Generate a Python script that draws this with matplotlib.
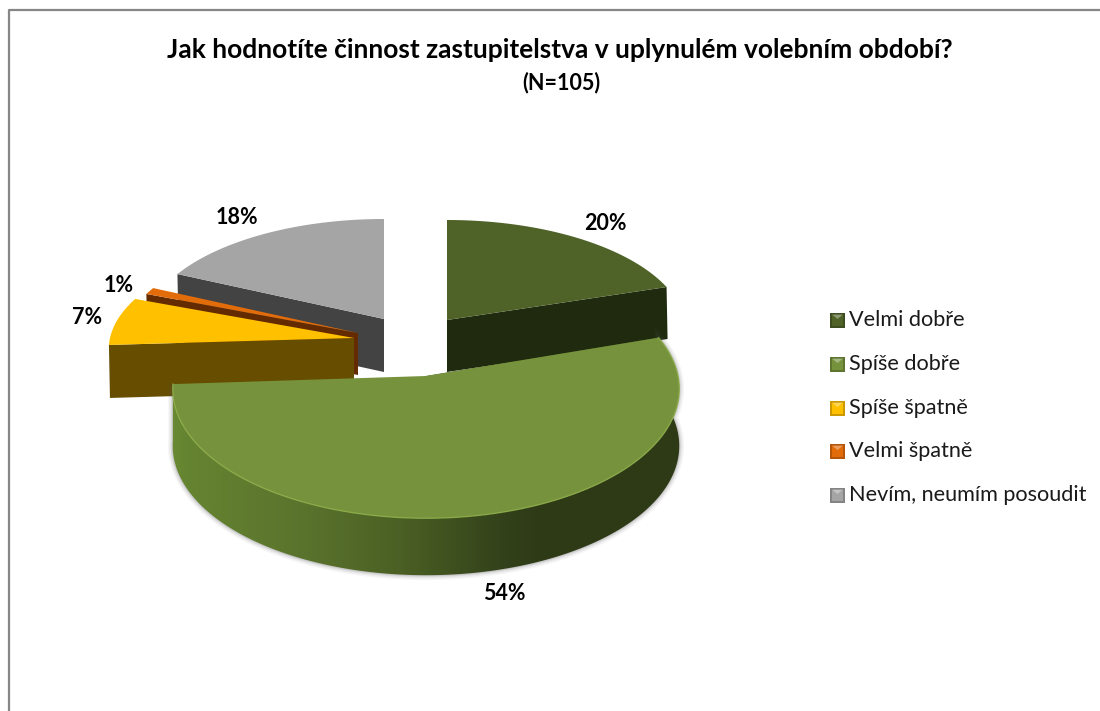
import numpy as np
import matplotlib
matplotlib.use('Agg')
import matplotlib.pyplot as plt
from matplotlib.patches import Polygon
from matplotlib.colors import to_rgb

plt.rcParams['font.family'] = ['Lato', 'DejaVu Sans']

categories = ['Velmi dobře', 'Spíše dobře', 'Spíše špatně', 'Velmi špatně', 'Nevím, neumím posoudit']
values = [20, 54, 7, 1, 18]
labels = ['20%', '54%', '7%', '1%', '18%']

top_colors = ['#4f6228', '#76923c', '#ffc000', '#e36c0a', '#a5a5a5']
side_colors = ['#1f2a0e', '#3a4d1c', '#664d00', '#652b00', '#434343']

# cx, cy, rx, ry, depth of each slice in pixels
geometry = [(447, 320, 238, 110, 52),
            (426, 376, 252, 128, 57),
            (354, 338, 244, 110, 53),
            (358, 333, 236, 110, 42),
            (384, 319, 238, 110, 53)]
label_pos = [(605, 224), (504, 593), (87, 318), (119, 285), (237, 217)]
draw_order = [4, 0, 3, 2, 1]

# shading along the green rim: x pixel -> colour
rim_x = [172, 190, 300, 400, 500, 540, 680]
rim_colors = ['#6a8a33', '#658431', '#5b742d', '#4b6024', '#33421a', '#2e3a16', '#2e3a16']

persp = 0.1


def rim_point(g, theta):
    cx, cy, rx, ry, d = g
    s = 1 / (1 + persp * np.cos(theta))
    return cx + rx * np.sin(theta) * s, cy - ry * np.cos(theta) * s


fig = plt.figure(figsize=(11, 7.11), dpi=100)
ax = fig.add_axes([0, 0, 1, 1])
ax.set_xlim(0, 1100)
ax.set_ylim(711, 0)
ax.axis('off')

# frame of the chart area, only top and left are in the crop
ax.plot([1100, 9, 9], [10, 10, 711], color='#868686', lw=1.6, zorder=1)

edges = np.cumsum([0] + values) / sum(values) * 2 * np.pi

for z, i in enumerate(draw_order):
    g = geometry[i]
    cx, cy, rx, ry, d = g
    t = np.linspace(edges[i], edges[i + 1], 200)
    xs, ys = rim_point(g, t)
    base = 10 + z * 3

    # radial face, the one turned to the viewer (first slice shows its end edge)
    k = -1 if i == 0 else 0
    x0, y0 = xs[k], ys[k]
    ax.add_patch(Polygon([(cx, cy), (x0, y0), (x0 + 1, y0 + d), (cx, cy + d)],
                         color=side_colors[i], lw=0, zorder=base))

    # outer rim only shows on the big front slice
    if i == 1:
        band = np.vstack([np.column_stack([xs, ys]), np.column_stack([xs, ys + d])[::-1]])
        # soft shadow round the bottom edge
        for w, a in [(7, 0.05), (5, 0.07), (3, 0.10), (1.5, 0.14)]:
            ax.add_patch(Polygon(band, closed=True, fc='none', ec='#555555', lw=w, alpha=a,
                                 zorder=base - 1))
        clip = Polygon(band, closed=True, transform=ax.transData, fc='none', ec='none')
        ax.add_patch(clip)
        grad_x = np.linspace(rim_x[0], rim_x[-1], 512)
        rgb = np.array([to_rgb(c) for c in rim_colors])
        grad = np.stack([np.interp(grad_x, rim_x, rgb[:, n]) for n in range(3)], axis=-1)[None, :, :]
        im = ax.imshow(grad, extent=(rim_x[0] - 4, rim_x[-1] + 4, ys.max() + d + 5, ys.min() - 5),
                       aspect='auto', zorder=base, interpolation='bilinear')
        im.set_clip_path(clip)
        ax.set_xlim(0, 1100)
        ax.set_ylim(711, 0)

    ax.add_patch(Polygon(np.column_stack([np.r_[cx, xs], np.r_[cy, ys]]),
                         color=top_colors[i], lw=0, zorder=base + 1))
    if i == 1:
        # lighter bevel on the lower edge of the top face
        ax.plot(xs, ys, color='#8fb04a', lw=1, alpha=0.8, zorder=base + 2)

for i in range(len(labels)):
    ax.text(label_pos[i][0], label_pos[i][1], labels[i], ha='center', va='center',
            fontsize=15.5, fontweight='bold', color='black', zorder=40)

ax.text(560, 50, 'Jak hodnotíte činnost zastupitelstva v uplynulém volebním období?',
        ha='center', va='center', fontsize=19, fontweight='bold')
ax.text(561, 83, '(N=105)', ha='center', va='center', fontsize=15.5, fontweight='bold')

# legend with little bevelled squares
leg_y = [320, 364, 408, 451, 495]
for i, name in enumerate(categories):
    y = leg_y[i]
    x1, x2 = 830, 845
    r, gr, b = to_rgb(top_colors[i])
    ax.add_patch(Polygon([(x1, y - 7.5), (x2, y - 7.5), (x2, y + 7.5), (x1, y + 7.5)],
                         color=(r * 0.8, gr * 0.8, b * 0.8), lw=0, zorder=30))
    ax.add_patch(Polygon([(x1 + 2, y - 5.5), (x2 - 2, y - 5.5), (x2 - 2, y + 5.5), (x1 + 2, y + 5.5)],
                         color=top_colors[i], lw=0, zorder=31))
    ax.add_patch(Polygon([(x1 + 2, y - 5.5), (x2 - 2, y - 5.5), ((x1 + x2) / 2, y - 1)],
                         color='white', alpha=0.35, lw=0, zorder=32))
    ax.text(849, y, name, ha='left', va='center', fontsize=15.6, color='#1a1a1a')

fig.savefig('out.png', dpi=100)
